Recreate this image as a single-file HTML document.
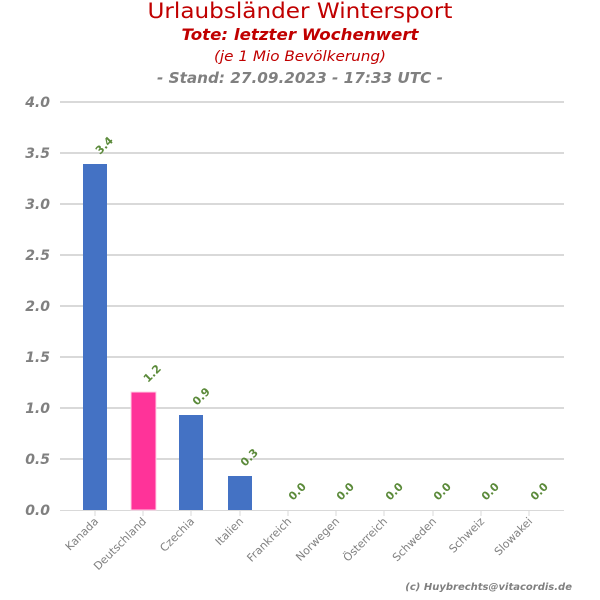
<!DOCTYPE html>
<html><head><meta charset="utf-8"><style>
body{margin:0;background:#fff}
svg{display:block;font-family:"DejaVu Sans","Liberation Sans",sans-serif}
</style></head><body>
<svg width="600" height="600" viewBox="0 0 600 600">
<text x="300" y="18" text-anchor="middle" font-size="21" fill="#c00000" textLength="305" lengthAdjust="spacingAndGlyphs">Urlaubsländer Wintersport</text>
<text x="300" y="40" text-anchor="middle" font-size="16" font-weight="bold" font-style="italic" fill="#c00000" textLength="237" lengthAdjust="spacingAndGlyphs">Tote: letzter Wochenwert</text>
<text x="300" y="61" text-anchor="middle" font-size="14.5" font-style="italic" fill="#c00000" textLength="172" lengthAdjust="spacingAndGlyphs">(je 1 Mio Bevölkerung)</text>
<text x="300" y="83" text-anchor="middle" font-size="15" font-weight="bold" font-style="italic" fill="#808080" textLength="286" lengthAdjust="spacingAndGlyphs">- Stand: 27.09.2023 - 17:33 UTC -</text>
<g stroke="#d9d9d9" stroke-width="2">
<line x1="60" x2="564" y1="102" y2="102"/><line x1="60" x2="564" y1="153" y2="153"/>
<line x1="60" x2="564" y1="204" y2="204"/><line x1="60" x2="564" y1="255" y2="255"/>
<line x1="60" x2="564" y1="306" y2="306"/><line x1="60" x2="564" y1="357" y2="357"/>
<line x1="60" x2="564" y1="408" y2="408"/><line x1="60" x2="564" y1="459" y2="459"/>
</g>
<line x1="60" x2="564" y1="510.5" y2="510.5" stroke="#d9d9d9" stroke-width="1"/>
<g font-size="14" font-weight="bold" font-style="italic" fill="#808080" text-anchor="end">
<text x="50" y="107">4.0</text><text x="50" y="158">3.5</text><text x="50" y="209">3.0</text>
<text x="50" y="260">2.5</text><text x="50" y="311">2.0</text><text x="50" y="362">1.5</text>
<text x="50" y="413">1.0</text><text x="50" y="464">0.5</text><text x="50" y="515">0.0</text>
</g>
<rect x="83" y="164" width="24" height="346" fill="#4472c4"/>
<rect x="131" y="392" width="25" height="118" fill="#ff3399" stroke="#ffd0e6" stroke-width="1"/>
<rect x="179" y="415" width="24" height="95" fill="#4472c4"/>
<rect x="228" y="476" width="24" height="34" fill="#4472c4"/>
<g stroke="#d9d9d9"><line x1="95" x2="95" y1="511" y2="516"/><line x1="143" x2="143" y1="511" y2="516"/><line x1="191" x2="191" y1="511" y2="516"/><line x1="240" x2="240" y1="511" y2="516"/><line x1="288" x2="288" y1="511" y2="516"/><line x1="336" x2="336" y1="511" y2="516"/><line x1="384" x2="384" y1="511" y2="516"/><line x1="433" x2="433" y1="511" y2="516"/><line x1="481" x2="481" y1="511" y2="516"/><line x1="529" x2="529" y1="511" y2="516"/></g>
<g font-size="11" font-weight="bold" fill="#5b8a3a">
<text transform="translate(100,155) rotate(-45)">3.4</text>
<text transform="translate(148,383) rotate(-45)">1.2</text>
<text transform="translate(197,406) rotate(-45)">0.9</text>
<text transform="translate(245,467) rotate(-45)">0.3</text>
<text transform="translate(293,501) rotate(-45)">0.0</text>
<text transform="translate(341,501) rotate(-45)">0.0</text>
<text transform="translate(390,501) rotate(-45)">0.0</text>
<text transform="translate(438,501) rotate(-45)">0.0</text>
<text transform="translate(486,501) rotate(-45)">0.0</text>
<text transform="translate(535,501) rotate(-45)">0.0</text>
</g>
<g font-size="11" fill="#808080" text-anchor="end">
<text transform="translate(99,522) rotate(-45)">Kanada</text>
<text transform="translate(147,522) rotate(-45)">Deutschland</text>
<text transform="translate(195,522) rotate(-45)">Czechia</text>
<text transform="translate(244,522) rotate(-45)">Italien</text>
<text transform="translate(292,522) rotate(-45)">Frankreich</text>
<text transform="translate(340,522) rotate(-45)">Norwegen</text>
<text transform="translate(388,522) rotate(-45)">Österreich</text>
<text transform="translate(437,522) rotate(-45)">Schweden</text>
<text transform="translate(485,522) rotate(-45)">Schweiz</text>
<text transform="translate(533,522) rotate(-45)">Slowakei</text>
</g>
<text x="572" y="590" text-anchor="end" font-size="10" font-weight="bold" font-style="italic" fill="#808080">(c) Huybrechts@vitacordis.de</text>
</svg>
</body></html>
